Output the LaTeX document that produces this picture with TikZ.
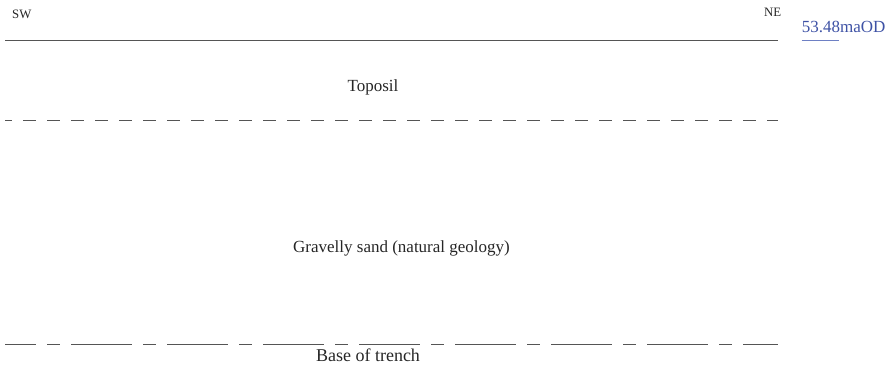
\documentclass[tikz,border=0pt]{standalone}
\usepackage{fontspec}
\setmainfont{Liberation Serif}
\definecolor{odblue}{RGB}{62,82,165}
\definecolor{odline}{RGB}{110,128,196}
\definecolor{secgrey}{RGB}{85,85,85}
\tikzset{
	lbl/.style={inner sep=0pt, anchor=base, text=black!85},
	bigtxt/.style={lbl, font=\fontsize{17}{20}\selectfont},
	smalltxt/.style={lbl, font=\fontsize{12.8}{15}\selectfont},
	secline/.style={draw=secgrey, line width=1pt},
}
\begin{document}
\begin{tikzpicture}[x=1pt, y=-1pt]
		\useasboundingbox (0,0) rectangle (891,374);
		% ground surface and level
		\coordinate (gsw) at (5,41);
		\coordinate (gne) at (778,41);
		\draw [secline] (gsw) -- (gne);
		\node [smalltxt, anchor=base west] (sw) at (12,19) {SW};
		\node [smalltxt, anchor=base east] (ne) at (781.5,17) {NE};
		\node [bigtxt, anchor=base west, text=odblue] (od) at (801.7,32.3) {53.48maOD};
		\draw [odline, line width=1pt] (od.west |- gne) -- ++(37.5,0);
		
		% topsoil
		\node [bigtxt] (topsoil) at (373,92) {Toposil};
		\coordinate (tsw) at (5,121);
		\coordinate (tne) at (778,121);
		\draw [secline, dash pattern=on 13pt off 11pt, dash phase=6pt] (tsw) -- (tne);
		
		% natural
		\node [bigtxt] (sand) at (401.5,252) {Gravelly sand (natural geology)};
		\coordinate (bsw) at (5,344);
		\coordinate (bne) at (778,344);
		\draw [secline, dash pattern=on 61pt off 11pt on 13pt off 11pt, dash phase=30pt] (bsw) -- (bne);
		\node [bigtxt, font=\fontsize{18}{21}\selectfont] (base) at (368,361.7) {Base of trench};
		
	\end{tikzpicture}
\end{document}
